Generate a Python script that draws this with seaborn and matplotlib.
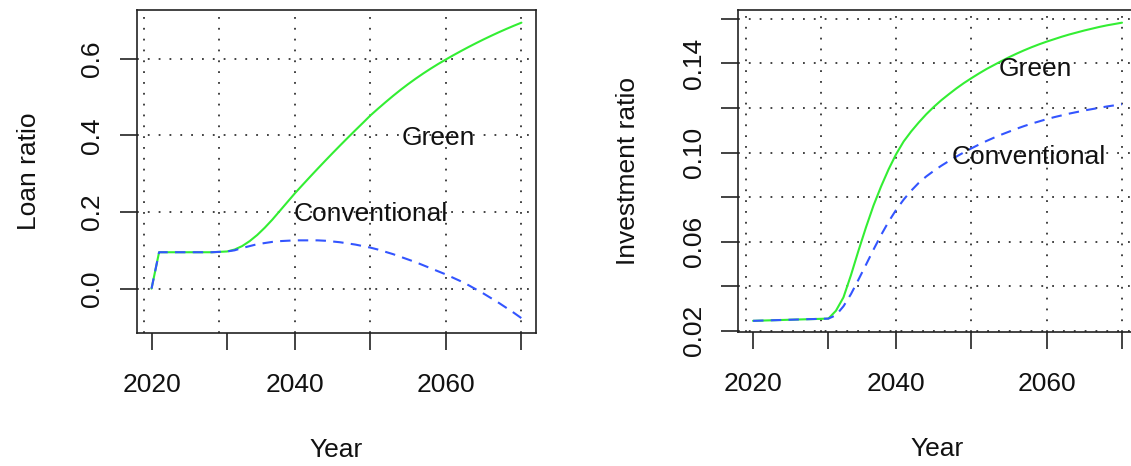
import matplotlib
matplotlib.use("Agg")
import matplotlib.pyplot as plt
import seaborn as sns
import pandas as pd

# ---------------- data ----------------
years = list(range(2021, 2071))

loan_green = [0.0, 0.095, 0.095, 0.095, 0.095, 0.095, 0.095, 0.095, 0.095, 0.096,
              0.097, 0.102, 0.111, 0.124, 0.140, 0.159, 0.180, 0.203, 0.226, 0.249,
              0.2705, 0.2918, 0.3128, 0.3335, 0.3539, 0.374, 0.3938, 0.4133, 0.4325, 0.452,
              0.4695, 0.4865, 0.503, 0.5188, 0.5338, 0.548, 0.5615, 0.5743, 0.5865, 0.598,
              0.6092, 0.620, 0.6305, 0.6406, 0.6504, 0.6598, 0.6689, 0.6776, 0.686, 0.694]

loan_conv = [0.0, 0.095, 0.095, 0.095, 0.095, 0.095, 0.095, 0.095, 0.095, 0.096,
             0.097, 0.100, 0.106, 0.111, 0.116, 0.119, 0.122, 0.124, 0.125, 0.126,
             0.126, 0.126, 0.126, 0.125, 0.123, 0.121, 0.118, 0.115, 0.111, 0.107,
             0.102, 0.096, 0.090, 0.083, 0.076, 0.069, 0.061, 0.053, 0.045, 0.037,
             0.028, 0.019, 0.009, -0.002, -0.013, -0.025, -0.037, -0.050, -0.063, -0.077]

inv_green = [0.0245, 0.0246, 0.0247, 0.0248, 0.0249, 0.0250, 0.0251, 0.0252, 0.0253, 0.0254,
             0.0255, 0.0290, 0.0350, 0.0450, 0.0560, 0.0665, 0.0763, 0.0848, 0.0925, 0.0993,
             0.1050, 0.1095, 0.1135, 0.1172, 0.1205, 0.1235, 0.1262, 0.1288, 0.1312, 0.1334,
             0.1355, 0.1375, 0.1393, 0.1411, 0.1428, 0.1444, 0.1459, 0.1473, 0.1486, 0.1498,
             0.1509, 0.1520, 0.1530, 0.1539, 0.1548, 0.1556, 0.1564, 0.1571, 0.1577, 0.1583]

inv_conv = [0.0245, 0.0246, 0.0247, 0.0248, 0.0249, 0.0250, 0.0251, 0.0252, 0.0253, 0.0254,
            0.0255, 0.0270, 0.0310, 0.0365, 0.0430, 0.0497, 0.0565, 0.0630, 0.0690, 0.0743,
            0.0789, 0.0829, 0.0864, 0.0893, 0.0918, 0.0941, 0.0962, 0.0982, 0.1001, 0.1019,
            0.1036, 0.1052, 0.1067, 0.1081, 0.1094, 0.1107, 0.1119, 0.1130, 0.1140, 0.1150,
            0.1159, 0.1167, 0.1175, 0.1182, 0.1189, 0.1195, 0.1201, 0.1207, 0.1212, 0.1217]

x_tick_pos = [2021, 2031, 2040, 2050, 2060, 2070]
x_tick_labels = ["2020", "", "2040", "", "2060", ""]
x_grid = [2020, 2030, 2040, 2050, 2060, 2070]

loan_yticks = [0.0, 0.2, 0.4, 0.6]
loan_ylabels = ["0.0", "0.2", "0.4", "0.6"]
inv_yticks = [0.02, 0.04, 0.06, 0.08, 0.10, 0.12, 0.14, 0.16]
inv_ylabels = ["0.02", "", "0.06", "", "0.10", "", "0.14", ""]

loan_notes = [("Green", 2059.0, 0.400), ("Conventional", 2050.0, 0.200)]
inv_notes = [("Green", 2058.5, 0.1385), ("Conventional", 2057.6, 0.0990)]

# ---------------- style ----------------
sns.set_style("white")
plt.rcParams["font.family"] = ["Liberation Sans", "DejaVu Sans"]
FS = 19
GREEN = "#33ee33"
BLUE = "#3355ff"

fig = plt.figure(figsize=(11.31, 4.66), dpi=100)
ax1 = fig.add_axes([0.1209, 0.286, 0.3532, 0.6925])
ax2 = fig.add_axes([0.6528, 0.2876, 0.3523, 0.691])


def draw(ax, green, conv, yticks, ylabels, ylim, ylabel, notes, ylabpad):
    df = pd.DataFrame({"Year": years, "Green": green, "Conventional": conv})
    # dotted grid
    grid_kw = dict(color="#333333", linestyle=(0, (1, 5)), lw=1.3, zorder=0.5)
    for gx in x_grid:
        ax.axvline(gx, **grid_kw)
    for gy in yticks:
        ax.axhline(gy, **grid_kw)
    sns.lineplot(data=df, x="Year", y="Green", ax=ax, color=GREEN, lw=1.5)
    sns.lineplot(data=df, x="Year", y="Conventional", ax=ax, color=BLUE, lw=1.5,
                 linestyle=(0, (5, 3.5)))
    ax.set_xlim(2019.04, 2071.96)
    ax.set_ylim(*ylim)
    ax.set_xticks(x_tick_pos, x_tick_labels)
    ax.set_yticks(yticks, ylabels)
    ax.grid(False)
    ax.tick_params(which="major", direction="out", length=12.5, width=1.2,
                   color="#222222", labelsize=FS, labelcolor="#111111",
                   bottom=True, left=True, top=False, right=False)
    ax.tick_params(axis="x", which="major", pad=16.5)
    ax.tick_params(axis="y", which="major", pad=11, labelrotation=90)
    for lab in ax.get_yticklabels():
        lab.set_va("center")
    for s in ax.spines.values():
        s.set_visible(True)
        s.set_color("#222222")
        s.set_linewidth(1.2)
    ax.set_xlabel("Year", fontsize=FS, labelpad=29.5, color="#111111")
    ax.set_ylabel(ylabel, fontsize=FS, labelpad=ylabpad, color="#111111")
    for txt, xx, yy in notes:
        ax.text(xx, yy, txt, fontsize=FS, ha="center", va="center_baseline",
                color="#111111")


draw(ax1, loan_green, loan_conv, loan_yticks, loan_ylabels, (-0.115, 0.727),
     "Loan ratio", loan_notes, 28)
draw(ax2, inv_green, inv_conv, inv_yticks, inv_ylabels, (0.0195, 0.164),
     "Investment ratio", inv_notes, 30)

fig.savefig("out.png", dpi=100)
